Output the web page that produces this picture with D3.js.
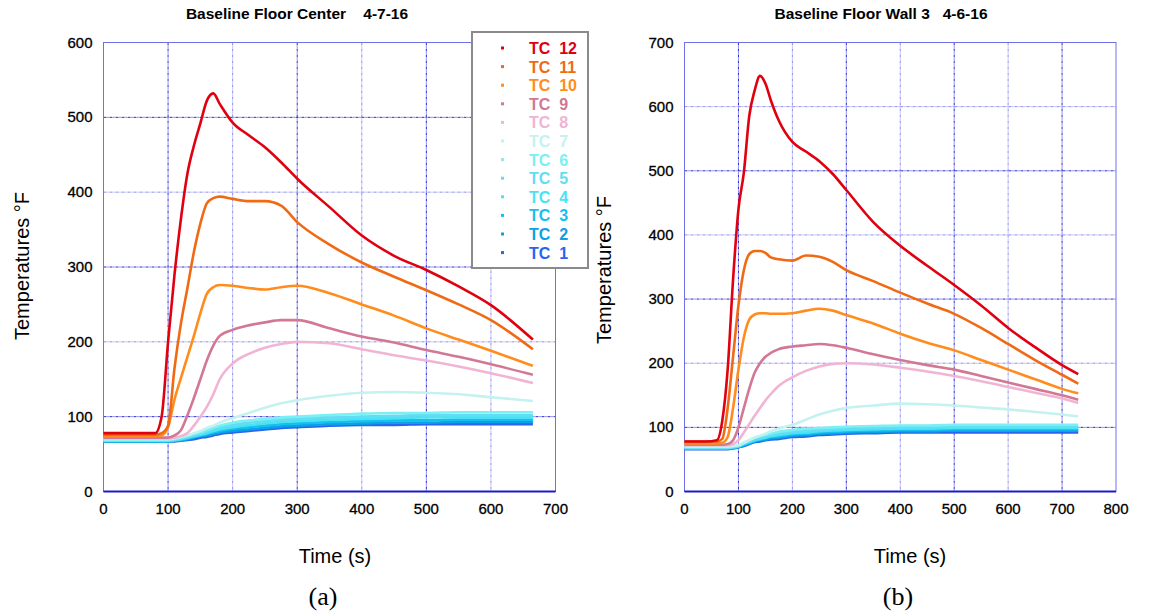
<!DOCTYPE html>
<html>
<head>
<meta charset="utf-8">
<script src="https://cdn.jsdelivr.net/npm/d3@7"></script>
<style>
  body { margin: 0; background: #fff; }
  svg text { font-family: "Liberation Sans", Arial, sans-serif; }
</style>
</head>
<body>
<svg id="chart" width="1154" height="615"></svg>
<script>
// ---- data ----
const seriesNames = ['TC 12', 'TC 11', 'TC 10', 'TC 9', 'TC 8', 'TC 7', 'TC 6', 'TC 5', 'TC 4', 'TC 3', 'TC 2', 'TC 1'];
const seriesColors = ['#e00010', '#f06a14', '#ff8c1c', '#d27894', '#f0b4d4', '#c4f2f0', '#78f0f4', '#64dcf4', '#48e4f4', '#14c0f0', '#0ca0e4', '#2a64f0'];

// (a) Baseline Floor Center 4-7-16
const timesA = [0, 40, 80, 90, 100, 110, 120, 130, 140, 150, 160, 170, 180, 200, 225, 250, 275, 300, 350, 400, 450, 500, 550, 600, 665];
const centerTC12 = [78, 78, 78, 100, 200, 290, 365, 425, 462, 492, 522, 532, 518, 493, 476, 460, 440, 418, 380, 342, 315, 296, 274, 249, 203];
const centerTC11 = [76, 76, 76, 78, 88, 165, 225, 272, 320, 358, 385, 392, 394, 391, 388, 388, 382, 360, 330, 306, 287, 269, 250, 229, 190];
const centerTC10 = [74, 74, 74, 75, 86, 123, 152, 180, 208, 238, 264, 273, 276, 275, 272, 270, 273, 275, 265, 250, 235, 218, 203, 188, 168];
const centerTC9 = [72, 72, 72, 72, 72, 75, 82, 102, 125, 150, 175, 195, 208, 216, 222, 226, 229, 229, 218, 207, 199, 189, 180, 170, 156];
const centerTC8 = [71, 71, 71, 71, 71, 72, 74, 78, 88, 100, 113, 130, 150, 171, 184, 192, 197, 200, 198, 190, 182, 175, 167, 158, 145];
const centerTC7 = [70, 70, 70, 70, 70, 71, 73, 75, 78, 81, 85, 88, 92, 98, 105, 112, 118, 122, 128, 132, 133, 132, 130, 126, 121];
const centerTC6 = [69, 69, 69, 69, 69, 70, 72, 74, 77, 79, 82, 85, 88, 92, 95, 97, 99, 100, 102, 104, 105, 105, 106, 106, 106];
const centerTC5 = [68, 68, 68, 68, 68, 69, 71, 73, 75, 77, 80, 83, 86, 89, 92, 94, 96, 97, 99, 100, 101, 102, 102, 102, 102];
const centerTC4 = [68, 68, 68, 68, 68, 69, 70, 72, 74, 76, 78, 81, 83, 86, 89, 91, 93, 94, 96, 97, 98, 99, 99, 99, 99];
const centerTC3 = [67, 67, 67, 67, 67, 68, 69, 71, 73, 75, 77, 79, 81, 84, 86, 88, 90, 91, 93, 94, 95, 95, 96, 96, 96];
const centerTC2 = [67, 67, 67, 67, 67, 68, 69, 70, 72, 74, 75, 77, 79, 81, 83, 85, 87, 88, 90, 91, 92, 92, 93, 93, 93];
const centerTC1 = [67, 67, 67, 67, 67, 67, 68, 69, 70, 72, 73, 75, 77, 79, 81, 83, 85, 86, 88, 89, 89, 90, 90, 90, 90];

// (b) Baseline Floor Wall 3 4-6-16
const timesB = [0, 40, 60, 70, 80, 90, 100, 110, 120, 130, 140, 150, 160, 175, 200, 225, 250, 275, 300, 350, 400, 450, 500, 550, 600, 650, 700, 730];
const wallTC12 = [78, 78, 80, 110, 190, 330, 440, 497, 585, 625, 648, 636, 610, 578, 545, 530, 515, 495, 470, 420, 383, 352, 322, 290, 255, 225, 197, 183];
const wallTC11 = [78, 78, 78, 82, 130, 210, 290, 345, 370, 375, 375, 372, 365, 362, 360, 368, 366, 358, 345, 328, 310, 293, 277, 255, 230, 205, 182, 168];
const wallTC10 = [75, 75, 75, 76, 85, 130, 190, 240, 268, 276, 278, 278, 277, 277, 278, 282, 285, 282, 275, 262, 246, 232, 220, 205, 190, 175, 160, 153];
const wallTC9 = [73, 73, 73, 73, 74, 80, 100, 130, 160, 185, 200, 210, 216, 222, 226, 228, 230, 228, 224, 214, 205, 197, 190, 180, 170, 160, 150, 143];
const wallTC8 = [72, 72, 72, 72, 72, 74, 80, 92, 105, 118, 130, 142, 152, 165, 178, 188, 195, 199, 200, 198, 193, 187, 180, 172, 163, 154, 145, 138];
const wallTC7 = [70, 70, 70, 70, 70, 71, 72, 76, 80, 84, 87, 90, 94, 98, 104, 112, 120, 126, 130, 134, 137, 136, 134, 131, 128, 124, 120, 117];
const wallTC6 = [69, 69, 69, 69, 69, 70, 72, 76, 80, 84, 86, 88, 90, 93, 96, 98, 99, 100, 101, 102, 103, 103, 104, 104, 104, 104, 104, 104];
const wallTC5 = [68, 68, 68, 68, 68, 69, 71, 75, 78, 82, 84, 86, 88, 90, 93, 95, 96, 97, 98, 99, 100, 100, 101, 101, 101, 101, 101, 101];
const wallTC4 = [68, 68, 68, 68, 68, 69, 70, 74, 77, 80, 82, 84, 86, 88, 91, 92, 94, 95, 96, 97, 98, 98, 99, 99, 99, 99, 99, 99];
const wallTC3 = [67, 67, 67, 67, 67, 68, 70, 73, 76, 79, 81, 83, 85, 86, 89, 90, 92, 93, 94, 95, 96, 96, 97, 97, 97, 97, 97, 97];
const wallTC2 = [67, 67, 67, 67, 67, 68, 69, 72, 75, 78, 80, 81, 83, 84, 87, 88, 90, 91, 92, 93, 94, 94, 95, 95, 95, 95, 95, 95];
const wallTC1 = [66, 66, 66, 66, 66, 67, 69, 71, 74, 77, 78, 80, 81, 82, 85, 86, 88, 89, 90, 91, 92, 92, 92, 92, 92, 92, 92, 92];

const xTicksA = [0, 100, 200, 300, 400, 500, 600, 700];
const yTicksA = [0, 100, 200, 300, 400, 500, 600];
const xTicksB = [0, 100, 200, 300, 400, 500, 600, 700, 800];
const yTicksB = [0, 100, 200, 300, 400, 500, 600, 700];

const svg = d3.select('#chart');

function drawChart(opt) {
    const x = d3.scaleLinear().domain([0, opt.xMax]).range([opt.left, opt.right]);
    const y = d3.scaleLinear().domain([0, opt.yMax]).range([opt.bottom, opt.top]);
    const g = svg.append('g');

    // grid lines
    g.selectAll('.vgrid')
        .data(opt.xTicks.slice(1, -1))
        .enter().append('line')
        .attr('x1', d => x(d)).attr('x2', d => x(d))
        .attr('y1', opt.top).attr('y2', opt.bottom)
        .attr('stroke', (d, i) => i % 2 === 0 ? '#2a2ad2' : '#8c8cec')
        .attr('stroke-width', 1)
        .attr('stroke-dasharray', '3,1,1,1');

    g.selectAll('.hgrid')
        .data(opt.yTicks.slice(1, -1))
        .enter().append('line')
        .attr('x1', opt.left).attr('x2', opt.right)
        .attr('y1', d => y(d)).attr('y2', d => y(d))
        .attr('stroke', (d, i) => i % 2 === 0 ? '#2a2ad2' : '#8c8cec')
        .attr('stroke-width', 1)
        .attr('stroke-dasharray', '3,1,1,1');

    // frame
    g.append('rect')
        .attr('x', opt.left).attr('y', opt.top)
        .attr('width', opt.right - opt.left).attr('height', opt.bottom - opt.top)
        .attr('fill', 'none').attr('stroke', '#7070e6').attr('stroke-width', 1);
    g.append('line')
        .attr('x1', opt.left).attr('x2', opt.right)
        .attr('y1', opt.bottom).attr('y2', opt.bottom)
        .attr('stroke', '#1a1ad0').attr('stroke-width', 2);

    // series, TC 1 drawn first so the hot ones sit on top
    const line = d3.line()
        .x((d, i) => x(opt.times[i]))
        .y(d => y(d))
        .curve(d3.curveMonotoneX);

    const order = d3.range(opt.series.length).reverse();
    g.selectAll('.series')
        .data(order)
        .enter().append('path')
        .attr('d', k => line(opt.series[k]))
        .attr('fill', 'none')
        .attr('stroke', k => seriesColors[k])
        .attr('stroke-width', 2.6)
        .attr('stroke-linejoin', 'round');

    // tick labels
    g.selectAll('.xlab')
        .data(opt.xTicks)
        .enter().append('text')
        .attr('x', d => x(d))
        .attr('y', opt.bottom + 22)
        .attr('text-anchor', 'middle')
        .attr('font-size', 15)
        .attr('stroke', '#000').attr('stroke-width', 0.3)
        .text(d => d);

    g.selectAll('.ylab')
        .data(opt.yTicks)
        .enter().append('text')
        .attr('x', opt.left - 11)
        .attr('y', d => y(d) + 5)
        .attr('text-anchor', 'end')
        .attr('font-size', 15)
        .attr('stroke', '#000').attr('stroke-width', 0.3)
        .text(d => d);

    // titles
    g.append('text')
        .attr('x', opt.titleX).attr('y', 19)
        .attr('text-anchor', 'middle')
        .attr('font-size', 15.5).attr('font-weight', 'bold')
        .attr('xml:space', 'preserve')
        .text(opt.title);

    g.append('text')
        .attr('transform', `translate(${opt.yTitleX},${opt.yTitleY}) rotate(-90)`)
        .attr('text-anchor', 'middle')
        .attr('font-size', 20)
        .text('Temperatures \u00B0F');

    g.append('text')
        .attr('x', opt.xTitleX).attr('y', 563)
        .attr('text-anchor', 'middle')
        .attr('font-size', 20)
        .text('Time (s)');

    g.append('text')
        .attr('x', opt.xTitleX - 12).attr('y', 605)
        .attr('text-anchor', 'middle')
        .attr('font-size', 26)
        .style('font-family', '"Liberation Serif", "Times New Roman", serif')
        .text(opt.caption);

    return g;
}

drawChart({
    left: 103.5, right: 555.5, top: 42.5, bottom: 491.5,
    xMax: 700, yMax: 600,
    xTicks: xTicksA, yTicks: yTicksA,
    times: timesA,
    series: [centerTC12, centerTC11, centerTC10, centerTC9, centerTC8, centerTC7,
             centerTC6, centerTC5, centerTC4, centerTC3, centerTC2, centerTC1],
    title: 'Baseline Floor Center    4-7-16', titleX: 297,
    yTitleX: 29, yTitleY: 266, xTitleX: 335, caption: '(a)'
});

drawChart({
    left: 684.5, right: 1116, top: 42.5, bottom: 491.5,
    xMax: 800, yMax: 700,
    xTicks: xTicksB, yTicks: yTicksB,
    times: timesB,
    series: [wallTC12, wallTC11, wallTC10, wallTC9, wallTC8, wallTC7,
             wallTC6, wallTC5, wallTC4, wallTC3, wallTC2, wallTC1],
    title: 'Baseline Floor Wall 3   4-6-16', titleX: 881,
    yTitleX: 611, yTitleY: 270, xTitleX: 910, caption: '(b)'
});

// legend (on chart a)
const legend = svg.append('g');
legend.append('rect')
    .attr('x', 472).attr('y', 32)
    .attr('width', 116).attr('height', 236)
    .attr('fill', '#fff')
    .attr('stroke', '#8a8a8a').attr('stroke-width', 2);

const rows = legend.selectAll('.row')
    .data(seriesNames)
    .enter().append('g')
    .attr('transform', (d, i) => `translate(0,${48 + i * 18.6})`);

rows.append('rect')
    .attr('x', 501).attr('y', -1.5)
    .attr('width', 3).attr('height', 3)
    .attr('fill', (d, i) => seriesColors[i]);

rows.append('text')
    .attr('x', 529).attr('y', 6)
    .attr('font-size', 16).attr('font-weight', 'bold')
    .attr('xml:space', 'preserve')
    .attr('fill', (d, i) => seriesColors[i])
    .text(d => d.replace(' ', '  '));
</script>
</body>
</html>
